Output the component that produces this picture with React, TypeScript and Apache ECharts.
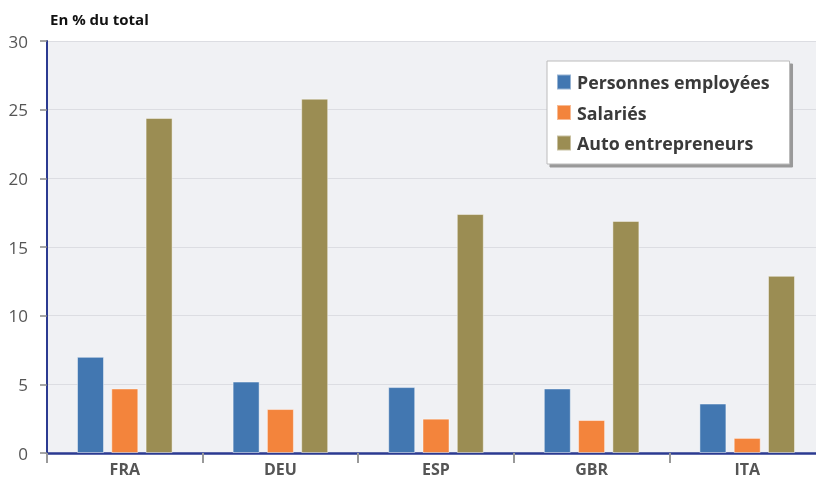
import React, { useEffect, useRef } from "react";
import * as echarts from "echarts";

const categories = ["FRA", "DEU", "ESP", "GBR", "ITA"];
const personnesEmployees = [7.0, 5.2, 4.8, 4.7, 3.6];
const salaries = [4.7, 3.2, 2.5, 2.4, 1.1];
const autoEntrepreneurs = [24.4, 25.8, 17.4, 16.9, 12.9];
const seriesNames = ["Personnes employées", "Salariés", "Auto entrepreneurs"];
const colors = ["#4277b1", "#f3843c", "#9b8d53"];

const FONT = "'Open Sans', sans-serif";

export default function App() {
  const ref = useRef<HTMLDivElement>(null);
  useEffect(() => {
    if (!ref.current) return;
    const chart = echarts.init(ref.current, undefined, { renderer: "svg" });
    const values = [personnesEmployees, salaries, autoEntrepreneurs];
    chart.setOption({
      animation: false,
      color: colors,
      title: {
        text: "En % du total",
        left: 45,
        top: 6,
        textStyle: { fontFamily: FONT, fontSize: 15, fontWeight: "bold", color: "#111" },
      },
      legend: {
        orient: "vertical",
        left: 547,
        top: 61,
        padding: [12, 20, 12, 9],
        itemGap: 12.5,
        itemWidth: 14,
        itemHeight: 15,
        backgroundColor: "#ffffff",
        borderColor: "#bbbbbb",
        borderWidth: 1,
        shadowColor: "#999999",
        shadowBlur: 0,
        shadowOffsetX: 3,
        shadowOffsetY: 3,
        icon: "rect",
        textStyle: { fontFamily: FONT, fontSize: 17.8, fontWeight: "bold", color: "#3a3a3a", padding: [0, 0, 0, 1] },
        data: seriesNames,
      },
      grid: {
        left: 47,
        top: 41,
        bottom: 28,
        right: 0,
        show: true,
        backgroundColor: "#f0f1f4",
        borderWidth: 0,
        containLabel: false,
      },
      xAxis: {
        type: "category",
        data: categories,
        axisLine: { lineStyle: { color: "#2b3a91", width: 2.5 } },
        axisTick: { show: true, length: 10, lineStyle: { color: "#999", width: 2 } },
        axisLabel: { fontFamily: FONT, fontSize: 16, lineHeight: 16, fontWeight: "bold", color: "#555", margin: 8 },
      },
      yAxis: {
        type: "value",
        min: 0,
        max: 30,
        interval: 5,
        axisLine: { show: true, lineStyle: { color: "#2b3a91", width: 2 } },
        axisTick: { show: true, length: 7, lineStyle: { color: "#888", width: 1.5 } },
        axisLabel: { fontFamily: FONT, fontSize: 17, color: "#555", margin: 19 },
        splitLine: { show: true, lineStyle: { color: "#dcdde2", width: 1 } },
      },
      series: seriesNames.map((name, i) => ({
        name,
        type: "bar",
        data: values[i],
        barWidth: 27,
        barGap: "27%",
        itemStyle: { color: colors[i], borderColor: "rgba(255,255,255,0.45)", borderWidth: 1 },
      })),
    });
    return () => chart.dispose();
  }, []);
  return (
    <div style={{ position: "fixed", left: 0, top: 0, width: 816, height: 481, overflow: "hidden" }}>
      <div ref={ref} style={{ width: 825, height: 481 }} />
    </div>
  );
}
